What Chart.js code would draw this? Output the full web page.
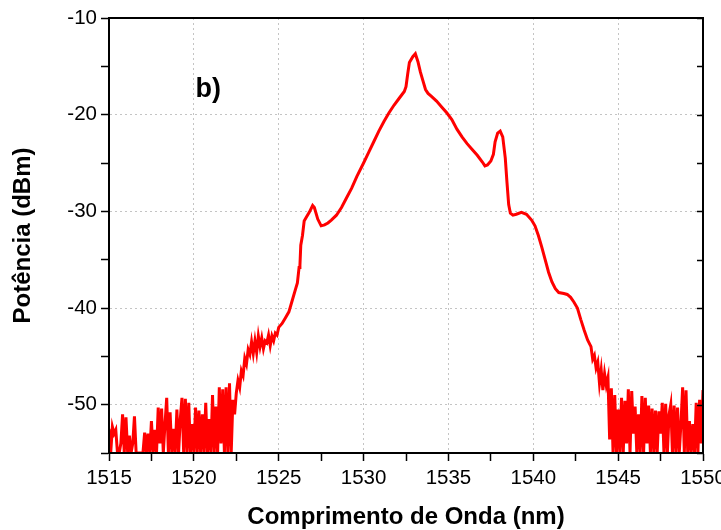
<!DOCTYPE html>
<html>
<head>
<meta charset="utf-8">
<script src="https://cdn.jsdelivr.net/npm/chart.js@4/dist/chart.umd.min.js"></script>
<style>
  html, body { margin: 0; padding: 0; background: #fff; }
  #wrap { width: 721px; height: 530px; position: relative; }
</style>
</head>
<body>
<div id="wrap"><canvas id="espectro"></canvas></div>
<script>
// Espectro b) (nm / dBm)

// ruido a esquerda
const leftNoiseNm = [1515.0,1515.1,1515.2,1515.3,1515.4,1515.5,1515.6,1515.7,1515.8,1515.9,
  1516.0,1516.1,1516.2,1516.3,1516.4,1516.5,1516.6,1516.7,1516.8,1516.9,
  1517.0,1517.1,1517.2,1517.3,1517.4,1517.5,1517.6,1517.7,1517.8,1517.9,
  1518.0,1518.1,1518.2,1518.3,1518.4,1518.5,1518.6,1518.7,1518.8,1518.9,
  1519.0,1519.1,1519.2,1519.3,1519.4,1519.5,1519.6,1519.7,1519.8,1519.9,
  1520.0,1520.1,1520.2,1520.3,1520.4,1520.5,1520.6,1520.7,1520.8,1520.9,
  1521.0,1521.1,1521.2,1521.3,1521.4,1521.5,1521.6,1521.7,1521.8,1521.9,
  1522.0,1522.1,1522.2];
const leftNoiseDbm = [-52.5,-55,-52.3,-53,-52.6,-55,-55,-54,-51.0,-55,
  -51.3,-55,-53.2,-55,-54,-51.2,-55,-55,-55,-55,
  -55,-52.9,-55,-53.0,-55,-51.7,-55,-52.6,-55,-50.3,
  -54,-50.4,-55,-52,-49.3,-55,-50.8,-55,-52.5,-55,
  -50.5,-55,-51.5,-49.3,-55,-49.4,-55,-49.8,-55,-52,
  -55,-50.3,-55,-50.6,-55,-51,-55,-49.8,-55,-51.5,
  -55,-49.0,-55,-50.2,-55,-48.2,-54,-48.4,-55,-48.2,
  -55,-47.8,-55];

// banda principal
const bandNm = [1522.3,1522.4,1522.5,1522.6,1522.7,1522.8,1522.9,1523.0,1523.1,1523.2,1523.3,
  1523.4,1523.5,1523.6,1523.7,1523.8,1523.9,1524.0,1524.1,1524.2,1524.3,1524.4,1524.5,
  1524.6,1524.7,1524.8,1524.9,1525.0,1525.2,1525.4,1525.6,1525.8,1526.0,1526.1,1526.2,
  1526.25,1526.3,1526.4,1526.5,1526.6,1526.8,1527.0,1527.1,1527.3,1527.5,1527.7,1527.9,
  1528.1,1528.4,1528.7,1529.0,1529.3,1529.6,1530.0,1530.3,1530.6,1530.9,1531.2,1531.5,
  1531.8,1532.1,1532.4,1532.5,1532.6,1532.7,1532.9,1533.05,1533.2,1533.35,1533.5,1533.65,
  1533.8,1534.0,1534.3,1534.6,1534.9,1535.2,1535.5,1535.8,1536.1,1536.4,1536.7,1537.0,
  1537.15,1537.3,1537.5,1537.65,1537.75,1537.9,1538.05,1538.2,1538.35,1538.45,1538.55,
  1538.65,1538.8,1539.0,1539.3,1539.6,1539.9,1540.1,1540.3,1540.5,1540.7,1540.9,1541.1,
  1541.3,1541.5,1541.8,1542.0,1542.2,1542.4,1542.6,1542.8,1543.0,1543.2,1543.4,1543.5,
  1543.6,1543.7,1543.8,1543.9,1544.0,1544.1,1544.2,1544.3,1544.4];
const bandDbm = [-49.5,-51,-48.8,-47.5,-48.2,-46.5,-47,-45.2,-45.8,-44.3,-44.8,
  -43.5,-44.7,-43.4,-44.6,-42.9,-44,-43.1,-44.2,-43.4,-43.6,-42.8,-43.9,
  -42.9,-43.4,-42.6,-42.8,-42.0,-41.6,-41.0,-40.4,-39.2,-38.0,-37.4,-35.8,
  -35.6,-33.5,-32.5,-31.0,-30.7,-30.1,-29.4,-29.6,-30.8,-31.5,-31.4,-31.2,
  -30.9,-30.4,-29.6,-28.6,-27.6,-26.4,-25.0,-23.9,-22.8,-21.7,-20.7,-19.8,
  -19.0,-18.3,-17.6,-17.1,-15.8,-14.6,-14.0,-13.7,-14.5,-15.6,-16.5,-17.4,
  -17.8,-18.1,-18.6,-19.2,-19.8,-20.5,-21.5,-22.3,-23.0,-23.6,-24.2,-24.9,
  -25.3,-25.2,-24.8,-24.1,-22.8,-21.9,-21.7,-22.3,-24.5,-27.0,-29.3,
  -30.2,-30.4,-30.3,-30.1,-30.3,-30.9,-31.5,-32.5,-33.7,-35.0,-36.3,-37.3,
  -38.0,-38.4,-38.5,-38.6,-38.9,-39.4,-40.0,-41.2,-42.3,-43.3,-44.0,-45.3,
  -44.9,-46.2,-45.6,-47.8,-46.4,-48.5,-46.8,-48.0,-47.2];

// ruido a direita
const rightNoiseNm = [1544.5,1544.6,1544.7,1544.8,1544.9,1545.0,1545.1,1545.2,1545.3,1545.4,
  1545.5,1545.6,1545.7,1545.8,1545.9,1546.0,1546.1,1546.2,1546.3,1546.4,
  1546.5,1546.6,1546.7,1546.8,1546.9,1547.0,1547.1,1547.2,1547.3,1547.4,
  1547.5,1547.6,1547.7,1547.8,1547.9,1548.0,1548.1,1548.2,1548.3,1548.4,
  1548.5,1548.6,1548.7,1548.8,1548.9,1549.0,1549.1,1549.2,1549.3,1549.4,
  1549.5,1549.6,1549.7,1549.8,1549.9,1550.0];
const rightNoiseDbm = [-53.6,-48.3,-55,-49,-55,-50.5,-55,-49.3,-55,-49.6,
  -54,-48.4,-55,-48.6,-53,-50.2,-55,-51,-55,-49.1,
  -55,-49.3,-54,-50.1,-55,-50.4,-55,-50.6,-55,-50.7,
  -53,-49.8,-55,-49.9,-55,-51,-50.0,-55,-50.1,-55,
  -50.3,-55,-52,-48.2,-55,-48.5,-55,-51.7,-55,-52,
  -55,-49.8,-55,-49.5,-54,-48.5];

// eixos
const xTicksMajor = [1515, 1520, 1525, 1530, 1535, 1540, 1545, 1550];
const yTicksMajor = [-10, -20, -30, -40, -50];

const FONT = "'Liberation Sans', Arial, sans-serif";

function buildPoints() {
    const nm = leftNoiseNm.concat(bandNm, rightNoiseNm);
    const db = leftNoiseDbm.concat(bandDbm, rightNoiseDbm);
    return nm.map((x, i) => ({ x: x, y: db[i] }));
}

// moldura preta por cima da curva + marcas internas no eixo direito + rotulo b)
const moldura = {
    id: 'moldura',
    afterDatasetsDraw(chart) {
        const { ctx, chartArea: a, scales } = chart;
        ctx.save();
        ctx.strokeStyle = '#000';
        ctx.lineWidth = 2;
        ctx.strokeRect(a.left, a.top, a.right - a.left, a.bottom - a.top);
        ctx.lineWidth = 1.5;
        for (let v = -55; v <= -10; v += 5) {
            const y = Math.round(scales.y.getPixelForValue(v)) + 0.5;
            ctx.beginPath();
            ctx.moveTo(a.right, y);
            ctx.lineTo(a.right - 6, y);
            ctx.stroke();
        }
        ctx.fillStyle = '#000';
        ctx.font = "bold 27px " + FONT;
        ctx.textBaseline = 'alphabetic';
        ctx.fillText('b)', scales.x.getPixelForValue(1520.1), scales.y.getPixelForValue(-18.2));
        ctx.restore();
    }
};

document.addEventListener('DOMContentLoaded', function() {
    const ctx = document.getElementById('espectro');
    new Chart(ctx, {
        type: 'line',
        data: {
            datasets: [{
                data: buildPoints(),
                borderColor: '#ff0000',
                borderWidth: 3,
                pointRadius: 0,
                tension: 0,
                fill: false,
                clip: 0
            }]
        },
        options: {
            responsive: true,
            maintainAspectRatio: false,
            animation: false,
            events: [],
            layout: { padding: { left: 0, top: 18, right: 18, bottom: 0 } },
            plugins: { legend: { display: false }, tooltip: { enabled: false } },
            scales: {
                x: {
                    type: 'linear',
                    min: 1515, max: 1550,
                    afterFit: s => { s.height = 77; s.paddingLeft = 0; s.paddingRight = 0; },
                    ticks: {
                        stepSize: 2.5, autoSkip: false, maxRotation: 0, padding: 5,
                        color: '#000', font: { family: FONT, size: 20.5 },
                        callback: v => xTicksMajor.includes(v) ? String(v) : ''
                    },
                    grid: {
                        color: c => xTicksMajor.includes(c.tick && c.tick.value) ? '#c4c4c4' : 'rgba(0,0,0,0)',
                        lineWidth: 1, tickColor: '#000', tickLength: 8, tickWidth: 1.5
                    },
                    border: { display: true, color: '#000', width: 2, dash: [2, 3] },
                    title: {
                        display: true, text: 'Comprimento de Onda (nm)', color: '#000',
                        font: { family: FONT, size: 24, weight: 'bold', lineHeight: 1 },
                        padding: { top: 0, bottom: 0.5 }
                    }
                },
                y: {
                    type: 'linear',
                    min: -55, max: -10,
                    afterFit: s => { s.width = 109; s.paddingTop = 0; s.paddingBottom = 0; },
                    ticks: {
                        stepSize: 5, autoSkip: false, padding: 4,
                        color: '#000', font: { family: FONT, size: 20.5 },
                        callback: v => yTicksMajor.includes(v) ? String(v) : ''
                    },
                    grid: {
                        color: c => yTicksMajor.includes(c.tick && c.tick.value) ? '#c4c4c4' : 'rgba(0,0,0,0)',
                        lineWidth: 1, tickColor: '#000', tickLength: 8, tickWidth: 1.5
                    },
                    border: { display: true, color: '#000', width: 2, dash: [2, 3] },
                    title: {
                        display: true, text: 'Potência (dBm)', color: '#000',
                        font: { family: FONT, size: 24, weight: 'bold', lineHeight: 1 },
                        padding: { top: 11, bottom: 0 }
                    }
                }
            }
        },
        plugins: [moldura]
    });
});
</script>
</body>
</html>
